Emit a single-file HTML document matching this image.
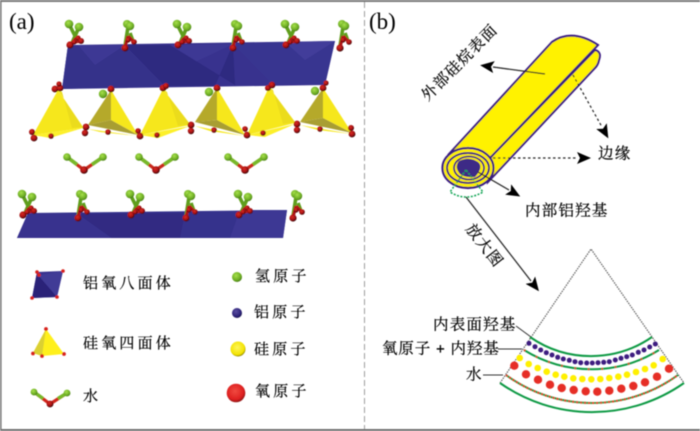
<!DOCTYPE html>
<html><head><meta charset="utf-8"><style>
html,body{margin:0;padding:0;background:#fff}
svg{display:block}
text{font-family:"Liberation Serif","Noto Serif CJK SC",serif;fill:#000;stroke:#000;stroke-width:.22px}
.l{font-size:15px;letter-spacing:3.200px;dominant-baseline:central}
.m{font-size:15.500px;letter-spacing:1.200px;dominant-baseline:central}
.t{font-size:23px;stroke-width:0}
</style></head><body>
<svg width="700" height="431" viewBox="0 0 700 431" xmlns="http://www.w3.org/2000/svg">
<defs>
<filter id="b" x="-2%" y="-2%" width="104%" height="104%"><feGaussianBlur stdDeviation="0.4"/></filter>
<radialGradient id="gg" cx=".4" cy=".35" r=".7"><stop offset="0" stop-color="#a6e04a"/><stop offset=".7" stop-color="#6aaa22"/><stop offset="1" stop-color="#3c6c14"/></radialGradient>
<radialGradient id="gr" cx=".4" cy=".35" r=".7"><stop offset="0" stop-color="#d82a20"/><stop offset=".55" stop-color="#a81214"/><stop offset="1" stop-color="#200404"/></radialGradient>
<radialGradient id="gb" cx=".4" cy=".35" r=".7"><stop offset="0" stop-color="#5a4ea0"/><stop offset=".7" stop-color="#2c2278"/><stop offset="1" stop-color="#141040"/></radialGradient>
<radialGradient id="gy" cx=".45" cy=".4" r=".65"><stop offset="0" stop-color="#fff65a"/><stop offset=".75" stop-color="#f2e200"/><stop offset="1" stop-color="#55500a"/></radialGradient>
<radialGradient id="go" cx=".45" cy=".4" r=".65"><stop offset="0" stop-color="#f04a40"/><stop offset=".7" stop-color="#de2020"/><stop offset="1" stop-color="#701010"/></radialGradient>
<g id="oa">
<path d="M79 27 L72 43 M69 24 L75 36" stroke="#5f9e1e" stroke-width="3.600" fill="none"/>
<path d="M72 43 L80 41 M76 38 L71 45" stroke="#b01414" stroke-width="3.200" fill="none"/>
<circle cx="69" cy="24" r="4.300" fill="url(#gg)"/><circle cx="79" cy="27" r="4.300" fill="url(#gg)"/>
<circle cx="78" cy="38" r="2.600" fill="url(#gr)"/><circle cx="81" cy="41" r="3" fill="url(#gr)"/><circle cx="70" cy="45" r="3.600" fill="url(#gr)"/><circle cx="74" cy="42" r="2.600" fill="url(#gr)"/>
</g>
<g id="ob">
<path d="M128 27 L125 46 M130 33 L133 41" stroke="#5f9e1e" stroke-width="3.600" fill="none"/>
<path d="M128 36 L134 42 M128 36 L125 47" stroke="#b01414" stroke-width="3.200" fill="none"/>
<circle cx="127" cy="24" r="4" fill="url(#gg)"/><circle cx="130" cy="26" r="4.200" fill="url(#gg)"/>
<circle cx="134" cy="42" r="2.800" fill="url(#gr)"/><circle cx="125" cy="48" r="3.600" fill="url(#gr)"/><circle cx="128" cy="40" r="2.600" fill="url(#gr)"/>
</g>
<g id="w">
<path d="M-17 -13 L0 0 L19 -13" fill="none" stroke="#c92a1c" stroke-width="3.200"/>
<path d="M-17 -13 L-7 -5.500 M19 -13 L8 -5.500" fill="none" stroke="#78b82a" stroke-width="3.600"/>
<circle cx="-17" cy="-13" r="3.800" fill="url(#gg)"/><circle cx="19" cy="-13" r="3.800" fill="url(#gg)"/><circle cx="0" cy="0" r="3.800" fill="url(#gr)"/>
</g>
<marker id="a1" markerWidth="14" markerHeight="12" refX="1" refY="6" orient="auto" markerUnits="userSpaceOnUse"><path d="M0 0 L14 6 L0 12 L3 6Z" fill="#000"/></marker>
</defs>

<g filter="url(#b)">
<!-- frame -->
<rect x="0" y="0" width="700" height="2" fill="#7a7a7a"/>
<rect x="0" y="429" width="700" height="2" fill="#6f6f6f"/>
<rect x="0" y="0" width="1.600" height="431" fill="#7a7a7a"/>
<line x1="364.500" y1="2" x2="364.500" y2="429" stroke="#9c9c9c" stroke-width="1" stroke-dasharray="6 3"/>

<text class="t" x="9" y="29">(a)</text>
<text class="t" x="369" y="29">(b)</text>

<!-- top octahedra -->
<path d="M68 45 L335 41 L325 85 L62 89Z" fill="#37328e"/>
<path d="M125 45 L165 86 L62 89 L68 45Z" fill="#34308a"/>
<path d="M78 45 L95 65 L125 45Z" fill="#3d3994"/>
<path d="M170 45 L195 62 L233 44Z" fill="#3d3994"/>
<path d="M233 44 L272 84 L325 85 L335 41Z" fill="#393490"/>
<path d="M285 42 L305 60 L335 41Z" fill="#423e9a"/>
<path d="M125 45 L165 86 L215 86 L233 44 L235 85 L170 45Z" fill="#2f2980"/>

<!-- tetrahedra -->
<g>
<path d="M58 90 L33 135 L83 128Z" fill="#f6e71c"/><path d="M58 90 L83 127 L72 128 L62 92Z" fill="#ebdc1e"/><path d="M33 135 L83 128 L50 138Z" fill="#fdf02a"/>
<path d="M111 90 L88 125 L111 120Z" fill="#b5a92c"/><path d="M111 90 L111 120 L138 135Z" fill="#f6e71c"/><path d="M88 125 L111 120 L138 135Z" fill="#a89e30"/><path d="M88 129 L138 136 L100 132Z" fill="#f6e71c"/>
<path d="M163 89 L140 135 L190 125Z" fill="#f6e71c"/><path d="M163 89 L190 124 L178 126 L167 92Z" fill="#ebdc1e"/><path d="M140 135 L190 126 L158 138Z" fill="#fdf02a"/>
<path d="M217 88 L195 122 L217 120Z" fill="#b5a92c"/><path d="M217 88 L217 120 L245 135Z" fill="#f6e71c"/><path d="M195 122 L217 120 L245 135Z" fill="#a89e30"/><path d="M195 126 L245 136 L210 131Z" fill="#f6e71c"/>
<path d="M269 87 L247 135 L295 123Z" fill="#f6e71c"/><path d="M269 87 L295 122 L283 124 L273 90Z" fill="#ebdc1e"/><path d="M247 135 L295 124 L265 137Z" fill="#fdf02a"/>
<path d="M323 88 L300 122 L323 118Z" fill="#b5a92c"/><path d="M323 88 L323 118 L352 133Z" fill="#f6e71c"/><path d="M300 122 L323 118 L352 133Z" fill="#a89e30"/><path d="M300 125 L352 134 L318 130Z" fill="#f6e71c"/>
</g>
<!-- O atoms at tetra -->
<g fill="url(#gr)">
<circle cx="55" cy="89" r="3.400"/><circle cx="60" cy="88" r="3.400"/><circle cx="59" cy="84" r="2.600"/>
<circle cx="111" cy="89" r="3.400"/><circle cx="163" cy="88" r="3.400"/><circle cx="166" cy="86" r="3"/>
<circle cx="217" cy="88" r="3.400"/><circle cx="268" cy="88" r="3"/><circle cx="272" cy="85" r="3.400"/>
<circle cx="323" cy="88" r="3.400"/><circle cx="326" cy="83" r="2.600"/>
<circle cx="32" cy="132" r="3"/><circle cx="34" cy="138" r="3.400"/><circle cx="51" cy="136" r="2.800"/>
<circle cx="86" cy="127" r="3.400"/><circle cx="85" cy="133" r="3.200"/><circle cx="108" cy="132" r="2.800"/>
<circle cx="138" cy="131" r="2.800"/><circle cx="140" cy="136" r="3.400"/><circle cx="157" cy="135" r="2.800"/>
<circle cx="191" cy="125" r="3.400"/><circle cx="191" cy="131" r="3.200"/><circle cx="214" cy="130" r="2.800"/>
<circle cx="245" cy="129" r="2.800"/><circle cx="247" cy="135" r="3.400"/><circle cx="263" cy="133" r="2.800"/>
<circle cx="297" cy="124" r="3.400"/><circle cx="297" cy="130" r="3.200"/><circle cx="320" cy="129" r="2.800"/>
<circle cx="351" cy="128" r="3"/><circle cx="352" cy="134" r="3.400"/>
</g>
<circle cx="103" cy="94" r="4.200" fill="url(#gg)"/><circle cx="209" cy="92" r="4.200" fill="url(#gg)"/><circle cx="315" cy="91" r="4.200" fill="url(#gg)"/>

<!-- top OH -->
<use href="#oa"/><use href="#ob"/>
<use href="#oa" x="108"/><use href="#ob" x="108"/>
<use href="#oa" x="216"/><use href="#ob" x="215"/>

<!-- water -->
<use href="#w" x="84" y="170"/><use href="#w" x="156" y="170"/><use href="#w" x="245" y="170"/>

<!-- bottom octahedra -->
<path d="M28 213 L287 210 L283 238 L17 238Z" fill="#36318c"/>
<path d="M28 213 L78 214 L110 238 L17 238Z" fill="#38338e"/>
<path d="M78 214 L112 238 L180 238 L185 213Z" fill="#302a82"/>
<path d="M240 210 L287 210 L283 238 L230 238Z" fill="#3d3894"/>
<use href="#oa" x="-47" y="170"/><use href="#ob" x="-47" y="170"/>
<use href="#oa" x="61" y="170"/><use href="#ob" x="61" y="170"/>
<use href="#oa" x="169" y="170"/><use href="#ob" x="168" y="170"/>

<!-- legend left -->
<path d="M37 272 L63 271 L57 297 L32 298Z" fill="#37328e"/><path d="M37 272 L57 297 L32 298Z" fill="#2c2478"/><path d="M38 275 L63 271 L57 297Z" fill="#3f3a96"/>
<g fill="#d8231f"><circle cx="37" cy="272" r="1.800"/><circle cx="39" cy="275" r="1.800"/><circle cx="63" cy="271" r="1.800"/><circle cx="57" cy="297" r="1.800"/><circle cx="32" cy="298" r="1.800"/></g>
<path d="M46 329 L33 353 L42 356 L64 354Z" fill="#fff01a"/><path d="M46 329 L33 353 L42 356Z" fill="#dbd030"/>
<g fill="#d8231f"><circle cx="46" cy="329" r="1.900"/><circle cx="33" cy="353.500" r="1.900"/><circle cx="42" cy="356" r="1.900"/><circle cx="64" cy="354" r="1.900"/></g>
<g transform="translate(50,404)"><path d="M-16 -12 L0 0 L17 -11" fill="none" stroke="#d0261c" stroke-width="3.200"/><path d="M-16 -12 L-7 -5.500 M17 -11 L8 -5.500" stroke="#78b82a" stroke-width="3.400"/><circle cx="-16" cy="-12" r="3.400" fill="url(#gg)"/><circle cx="17" cy="-11" r="3.400" fill="url(#gg)"/><circle cx="0" cy="0" r="3.400" fill="url(#gr)"/></g>
<text class="l" x="83" y="284">铝氧八面体</text>
<text class="l" x="83" y="344">硅氧四面体</text>
<text class="l" x="83" y="397">水</text>

<!-- legend right -->
<circle cx="237" cy="277" r="5" fill="url(#gg)"/>
<circle cx="237" cy="313" r="5" fill="url(#gb)"/>
<circle cx="238" cy="349" r="7.500" fill="url(#gy)"/>
<circle cx="236" cy="393" r="9.300" fill="url(#go)"/>
<text class="l" x="255" y="277">氢原子</text>
<text class="l" x="254" y="313">铝原子</text>
<text class="l" x="254" y="350">硅原子</text>
<text class="l" x="255" y="392">氧原子</text>

<!-- (b) cylinder -->
<path d="M490 158 L595 50 Q602 52 599 60 Q598 65 595 68 L488 182 Z" fill="#fff200" stroke="#3a1d82" stroke-width="2"/>
<path d="M448 155 L552 42 Q572 28 598 45 L490 158 Q470 140 448 155Z" fill="#fff200" stroke="#3a1d82" stroke-width="2"/>
<ellipse cx="468" cy="168" rx="25.500" ry="20" fill="#fff200" stroke="#3a1d82" stroke-width="2.200"/>
<ellipse cx="468" cy="168" rx="21" ry="15" fill="#fff200" stroke="#3a1d82" stroke-width="2"/>
<ellipse cx="469" cy="168" rx="15" ry="11.500" fill="#fff200" stroke="#3a1d82" stroke-width="1.800"/>
<path d="M459 161 Q469 156 478 162 Q484 167 475 177 Q465 178 460 174 Q454 167 459 161Z" fill="#3c2a86"/>
<path d="M466 170 L450 192 Q466 202 483 192Z" fill="none" stroke="#16a455" stroke-width="1.500" stroke-dasharray="2 1.500"/>

<!-- arrows b -->
<line x1="545" y1="74" x2="493" y2="67" stroke="#222" stroke-width="1.200" marker-end="url(#a1)"/>
<line x1="573" y1="75" x2="602" y2="127" stroke="#222" stroke-width="1.200" stroke-dasharray="2.500 2.500" marker-end="url(#a1)"/>
<line x1="493" y1="158" x2="578" y2="158" stroke="#222" stroke-width="1.200" stroke-dasharray="2.500 2.500" marker-end="url(#a1)"/>
<line x1="478" y1="172" x2="509" y2="190" stroke="#222" stroke-width="1.200" marker-end="url(#a1)"/>
<line x1="466" y1="197" x2="531" y2="281" stroke="#222" stroke-width="1.200" marker-end="url(#a1)"/>

<text class="m" transform="translate(460,63) rotate(-45)" text-anchor="middle">外部硅烷表面</text>
<text class="m" x="598" y="154">边缘</text>
<text class="m" x="525" y="211">内部铝羟基</text>
<text class="m" transform="translate(484,246) rotate(52)" text-anchor="middle">放大图</text>

<!-- sector -->
<path d="M500 383 L591 249 L684 383" fill="none" stroke="#555" stroke-width="1.100" stroke-dasharray="1.500 1"/>
<path d="M530 337 A107 107 0 0 0 652 337" fill="none" stroke="#0f9a45" stroke-width="2"/>
<path d="M524 350 A128 128 0 0 0 659 350" fill="none" stroke="#0f9a45" stroke-width="2"/>
<path d="M524 350 A128 128 0 0 0 659 350" fill="none" stroke="#e0432a" stroke-width="2" stroke-dasharray="1.500 12"/>
<path d="M506 375 A146 146 0 0 0 678 375" fill="none" stroke="#0f9a45" stroke-width="2"/>
<path d="M506 375 A146 146 0 0 0 678 375" fill="none" stroke="#e0432a" stroke-width="2" stroke-dasharray="2 2"/>
<path d="M500 383 A160 160 0 0 0 684 383" fill="none" stroke="#0f9a45" stroke-width="2"/>

<g fill="#3c1f80">
<circle cx="529" cy="343.300" r="2.500"/><circle cx="535" cy="346.700" r="2.500"/><circle cx="540.700" cy="350" r="2.500"/><circle cx="546.300" cy="352.700" r="2.500"/><circle cx="552" cy="355" r="2.500"/><circle cx="557.700" cy="357.300" r="2.500"/><circle cx="563.300" cy="359" r="2.500"/><circle cx="569.300" cy="360.300" r="2.500"/><circle cx="575" cy="361.700" r="2.500"/><circle cx="580.700" cy="362.700" r="2.500"/><circle cx="586.700" cy="363" r="2.500"/><circle cx="592.300" cy="363" r="2.500"/><circle cx="598" cy="362.700" r="2.500"/><circle cx="603.700" cy="362.300" r="2.500"/><circle cx="609.300" cy="361.700" r="2.500"/><circle cx="615.300" cy="360" r="2.500"/><circle cx="621" cy="358.300" r="2.500"/><circle cx="626.700" cy="356.700" r="2.500"/><circle cx="632.300" cy="355" r="2.500"/><circle cx="638.300" cy="352.300" r="2.500"/><circle cx="644" cy="350" r="2.500"/><circle cx="649.700" cy="347" r="2.500"/><circle cx="655.300" cy="344" r="2.500"/>
</g>
<g fill="#fff000">
<circle cx="519.700" cy="358" r="3.300"/><circle cx="528.700" cy="364" r="3.300"/><circle cx="537.700" cy="368" r="3.300"/><circle cx="546.700" cy="371.700" r="3.300"/><circle cx="555.700" cy="374.700" r="3.300"/><circle cx="564.300" cy="376.700" r="3.300"/><circle cx="573.300" cy="378.300" r="3.300"/><circle cx="582.300" cy="379" r="3.300"/><circle cx="591.300" cy="379.300" r="3.300"/><circle cx="600.300" cy="379" r="3.300"/><circle cx="609.300" cy="378" r="3.300"/><circle cx="618.300" cy="376.700" r="3.300"/><circle cx="627" cy="374.700" r="3.300"/><circle cx="636" cy="372" r="3.300"/><circle cx="645" cy="369" r="3.300"/><circle cx="653.700" cy="365.300" r="3.300"/><circle cx="662.700" cy="359" r="3.300"/>
</g>
<g fill="#e62e26">
<circle cx="514.300" cy="365.700" r="4.200"/><circle cx="526" cy="374.300" r="4.200"/><circle cx="538" cy="379.700" r="4.200"/><circle cx="550" cy="384.700" r="4.200"/><circle cx="561.700" cy="388" r="4.200"/><circle cx="573.700" cy="390" r="4.200"/><circle cx="585.700" cy="391.300" r="4.200"/><circle cx="597.300" cy="391.700" r="4.200"/><circle cx="609.300" cy="390.700" r="4.200"/><circle cx="621.300" cy="388.700" r="4.200"/><circle cx="633.300" cy="386" r="4.200"/><circle cx="645" cy="382.300" r="4.200"/><circle cx="657" cy="376.700" r="4.200"/><circle cx="669" cy="368.700" r="4.200"/>
</g>

<path d="M516 326 L531 337 M498 349 L522 349 M483 375 L503 375" stroke="#333" stroke-width="1" fill="none"/>
<text class="m" x="433" y="325">内表面羟基</text>
<text class="m" x="382" y="349" style="letter-spacing:.9px">氧原子 <tspan font-weight="bold">+</tspan> 内羟基</text>
<text class="m" x="466" y="375">水</text>
</g>
</svg>
</body></html>
